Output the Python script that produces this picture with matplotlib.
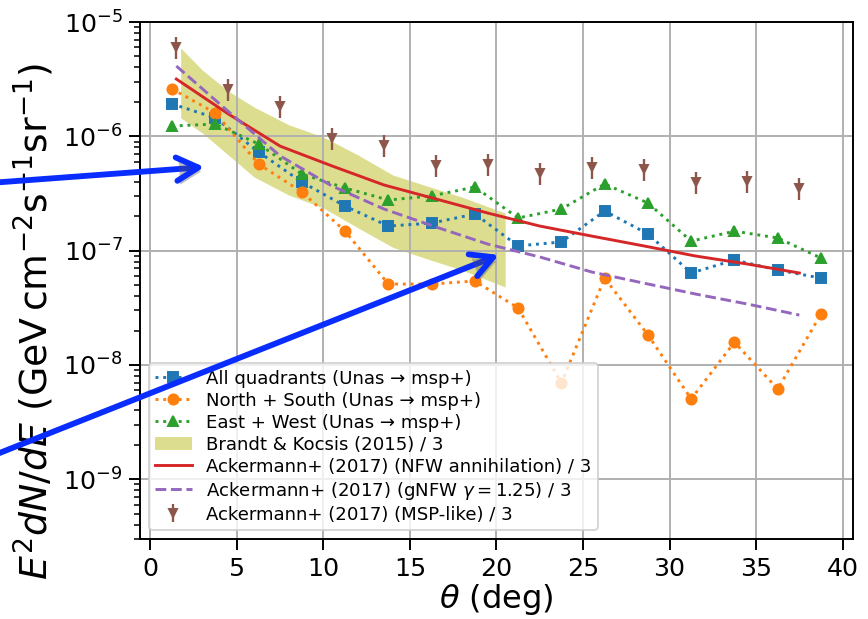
import numpy as np
import matplotlib
matplotlib.use("Agg")
import matplotlib.pyplot as plt
import matplotlib.patheffects as pe

# Angular bins (deg) of the measured profiles
theta_bins = [1.25, 3.75, 6.25, 8.75, 11.25, 13.75, 16.25, 18.75,
              21.25, 23.75, 26.25, 28.75, 31.25, 33.75, 36.25, 38.75]

all_quadrants = [1.92e-6, 1.45e-6, 7.3e-7, 3.98e-7, 2.45e-7, 1.64e-7, 1.74e-7, 2.09e-7,
                 1.10e-7, 1.19e-7, 2.22e-7, 1.40e-7, 6.37e-8, 8.28e-8, 6.76e-8, 5.75e-8]
north_south = [2.60e-6, 1.60e-6, 5.73e-7, 3.26e-7, 1.48e-7, 5.10e-8, 5.10e-8, 5.42e-8,
               3.15e-8, 6.95e-9, 5.75e-8, 1.83e-8, 5.04e-9, 1.58e-8, 6.15e-9, 2.79e-8]
east_west = [1.23e-6, 1.28e-6, 8.57e-7, 4.68e-7, 3.53e-7, 2.77e-7, 3.01e-7, 3.60e-7,
             1.93e-7, 2.31e-7, 3.83e-7, 2.61e-7, 1.21e-7, 1.48e-7, 1.29e-7, 8.61e-8]

# Brandt & Kocsis (2015) band
bk_theta = [1.75, 3.0, 4.5, 6.0, 8.0, 10.0, 12.0, 14.0, 16.0, 18.0, 20.5]
bk_upper = [5.93e-6, 3.8e-6, 2.49e-6, 1.80e-6, 1.26e-6, 9.86e-7, 6.86e-7, 4.59e-7,
            3.67e-7, 2.94e-7, 2.13e-7]
bk_lower = [1.45e-6, 1.07e-6, 6.86e-7, 4.4e-7, 3.06e-7, 2.36e-7, 1.58e-7, 1.07e-7,
            8.45e-8, 6.76e-8, 4.8e-8]

# Ackermann+ (2017) profiles
ack_theta = [1.5, 4.5, 7.5, 10.5, 13.5, 16.5, 19.5, 22.5, 25.5, 28.5, 31.5, 34.5, 37.5]
ack_nfw = [3.17e-6, 1.57e-6, 8.2e-7, 5.5e-7, 3.75e-7, 2.83e-7, 2.13e-7, 1.64e-7,
           1.34e-7, 1.10e-7, 8.97e-8, 7.63e-8, 6.37e-8]
ack_gnfw = [4.12e-6, 1.65e-6, 6.73e-7, 3.67e-7, 2.31e-7, 1.61e-7, 1.14e-7, 8.8e-8,
            6.5e-8, 5.2e-8, 4.17e-8, 3.41e-8, 2.73e-8]
ack_msp = [6.1e-6, 2.60e-6, 1.86e-6, 9.66e-7, 8.39e-7, 5.61e-7, 5.73e-7, 4.78e-7,
           5.39e-7, 5.17e-7, 3.98e-7, 4.06e-7, 3.53e-7]
ack_msp_rel_err = 0.22

x_ticks = [0, 5, 10, 15, 20, 25, 30, 35, 40]

W, H, DPI = 868, 619, 140
fig = plt.figure(figsize=(W / DPI, H / DPI), dpi=DPI)
ax = fig.add_axes([140 / W, 1 - 539 / H, (853 - 140) / W, (539 - 22) / H])

ms = 5.2
ax.plot(theta_bins, all_quadrants, ls=':', marker='s', ms=ms, color='tab:blue',
        label='All quadrants (Unas → msp+)')
ax.plot(theta_bins, north_south, ls=':', marker='o', ms=ms, color='tab:orange',
        label='North + South (Unas → msp+)')
ax.plot(theta_bins, east_west, ls=':', marker='^', ms=ms, color='tab:green',
        label='East + West (Unas → msp+)')
ax.fill_between(bk_theta, bk_lower, bk_upper, color='tab:olive', alpha=0.5, lw=0,
                label='Brandt & Kocsis (2015) / 3')
ax.plot(ack_theta, ack_nfw, '-', color='tab:red',
        label='Ackermann+ (2017) (NFW annihilation) / 3')
ax.plot(ack_theta, ack_gnfw, '--', color='tab:purple',
        label=r'Ackermann+ (2017) (gNFW $\gamma = 1.25$) / 3')
msp = np.asarray(ack_msp)
ax.errorbar(ack_theta, msp, yerr=ack_msp_rel_err * msp, fmt='v', ms=4.5,
            color='tab:brown', elinewidth=1.2,
            label='Ackermann+ (2017) (MSP-like) / 3')

ax.set_yscale('log')
ax.set_xlim(-0.6, 40.6)
ax.set_ylim(3e-10, 1e-5)
ax.set_xticks(x_ticks)
ax.grid(True, which='major', color='#b0b0b0', lw=1.0)
ax.tick_params(axis='both', which='major', labelsize=13, length=5.5, width=1.0)
ax.tick_params(axis='y', which='minor', length=3, width=0.8)
for s in ax.spines.values():
    s.set_linewidth(1.0)

ax.set_xlabel(r'$\theta$ (deg)', fontsize=16.5, labelpad=1)
ax.set_ylabel(r'$E^2 dN/dE$ ($\mathrm{GeV\,cm^{-2}s^{-1}sr^{-1}}$)', fontsize=19.5)
ax.yaxis.set_label_coords(-0.118, 0.42)

ax.legend(loc='lower left', fontsize=9.3, numpoints=1, labelspacing=0.22,
          borderpad=0.35)

# Pointer arrows entering from the left margin
arrow_kw = dict(arrowstyle='->,head_length=0.8,head_width=0.43', color='#0a2dff',
                lw=3.0, mutation_scale=14, shrinkA=0, shrinkB=0,
                path_effects=[pe.SimplePatchShadow(offset=(1.5, -2), alpha=0.35),
                              pe.Normal()])
ax.annotate('', xy=(3.12, 5.38e-7), xycoords='data',
            xytext=(-0.035, 0.702), textcoords='figure fraction',
            arrowprops=arrow_kw, annotation_clip=False, zorder=10)
ax.annotate('', xy=(20.14, 9.17e-8), xycoords='data',
            xytext=(-0.035, 0.249), textcoords='figure fraction',
            arrowprops=arrow_kw, annotation_clip=False, zorder=10)

fig.savefig('out.png', dpi=DPI)
